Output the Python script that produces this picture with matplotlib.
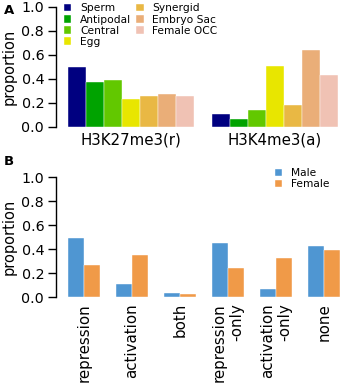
import matplotlib
matplotlib.use('Agg')
import matplotlib.pyplot as plt
import numpy as np

# panel A data
cell_types = ['Sperm', 'Antipodal', 'Central', 'Egg', 'Synergid', 'Embryo Sac', 'Female OCC']
cell_colors = ['#000080', '#00a300', '#62c800', '#e8e600', '#e9b844', '#eaae78', '#f0c2b4']
marks = ['H3K27me3(r)', 'H3K4me3(a)']
h3k27_vals = [0.496, 0.377, 0.393, 0.233, 0.255, 0.274, 0.258]
h3k4_vals = [0.111, 0.066, 0.144, 0.510, 0.186, 0.637, 0.432]

# panel B data
categories = ['repression', 'activation', 'both', 'repression\n-only', 'activation\n-only', 'none']
male_vals = [0.490, 0.108, 0.033, 0.454, 0.069, 0.427]
female_vals = [0.269, 0.349, 0.025, 0.241, 0.324, 0.396]
sex_colors = {'Male': '#4f96d2', 'Female': '#f09a48'}

plt.rcParams['font.family'] = 'DejaVu Sans'

W, H = 340, 385
fig = plt.figure(figsize=(W / 100, H / 100), dpi=100)


def style_axis(ax):
    for s in ['top', 'right', 'bottom']:
        ax.spines[s].set_visible(False)
    ax.spines['left'].set_bounds(0, 1)
    ax.spines['left'].set_linewidth(1.0)
    ax.set_ylim(0, 1.0)
    ax.set_yticks(np.arange(0, 1.01, 0.2))
    ax.set_yticklabels(['%.1f' % v for v in np.arange(0, 1.01, 0.2)])
    ax.tick_params(axis='y', direction='out', length=5.5, width=1, labelsize=10.3, pad=3)
    ax.tick_params(axis='x', length=0, labelsize=10.8, pad=4)
    ax.set_ylabel('proportion', fontsize=10.5, labelpad=3.5)
    ax.patch.set_alpha(0)


# --- panel A ---
axA = fig.add_axes([56 / W, (H - 127) / H, 284 / W, 120.3 / H])
n = len(cell_types)
for g, vals in enumerate([h3k27_vals, h3k4_vals]):
    for i, v in enumerate(vals):
        axA.bar(g * (n + 1) + i, v, width=1.0, color=cell_colors[i],
                edgecolor='white', linewidth=0.3,
                label=cell_types[i] if g == 0 else None)
axA.set_xlim(-1.167, 14.611)
axA.set_xticks([(n - 1) / 2, (n + 1) + (n - 1) / 2])
axA.set_xticklabels(marks)
style_axis(axA)
axA.legend(ncol=2, loc='upper left', bbox_to_anchor=(0.005, 1.08), frameon=False,
           fontsize=7.7, handlelength=0.7, handleheight=0.7, handletextpad=0.8,
           labelspacing=0.1, columnspacing=0.5, borderaxespad=0.2)

# --- panel B ---
axB = fig.add_axes([56 / W, (H - 297.3) / H, 284 / W, 120.3 / H])
x = np.arange(len(categories))
bw = 1 / 3
axB.bar(x - bw / 2, male_vals, width=bw, color=sex_colors['Male'],
        edgecolor='white', linewidth=0.3, label='Male')
axB.bar(x + bw / 2, female_vals, width=bw, color=sex_colors['Female'],
        edgecolor='white', linewidth=0.3, label='Female')
axB.set_xlim(-0.583, 5.333)
axB.set_xticks(x)
axB.set_xticklabels(categories, rotation=90, va='top', ha='center', multialignment='right')
style_axis(axB)
axB.legend(loc='upper right', bbox_to_anchor=(0.985, 1.125), frameon=False,
           fontsize=7.7, handlelength=0.7, handleheight=0.7, handletextpad=0.8,
           labelspacing=0.1, borderaxespad=0.2)

fig.text(4 / W, 1 - 10 / H, 'A', fontsize=9.5, fontweight='bold', va='center')
fig.text(4 / W, 1 - 162 / H, 'B', fontsize=9.5, fontweight='bold', va='center')

fig.savefig('out.png', dpi=100)
